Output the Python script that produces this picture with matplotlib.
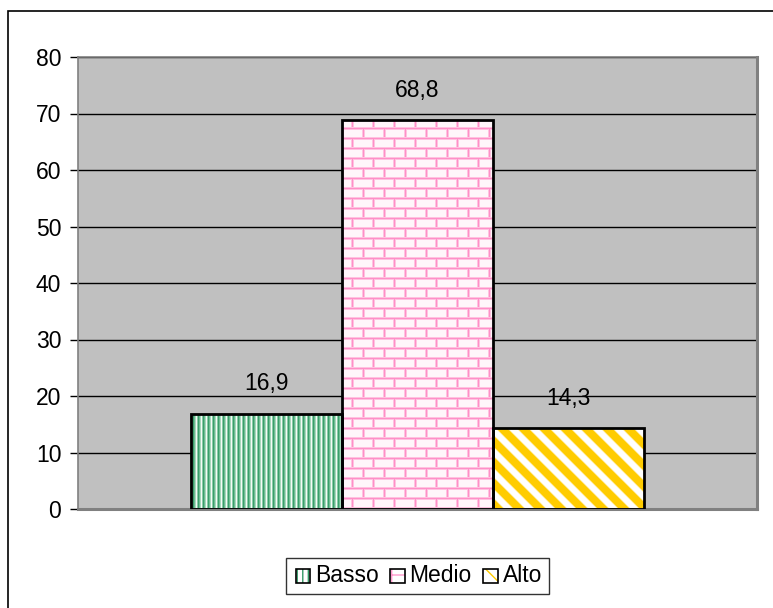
import numpy as np
import matplotlib
matplotlib.use("Agg")
import matplotlib.pyplot as plt
from matplotlib.patches import Rectangle
from matplotlib.legend_handler import HandlerBase

plt.rcParams['font.family'] = ['Liberation Sans', 'DejaVu Sans']

# Data
series = ["Basso", "Medio", "Alto"]
values = [16.9, 68.8, 14.3]
labels = ["16,9", "68,8", "14,3"]
y_ticks = [0, 10, 20, 30, 40, 50, 60, 70, 80]

W, H, DPI = 773, 608, 100
FS = 16.5
fig = plt.figure(figsize=(W / DPI, H / DPI), dpi=DPI)
fig.patch.set_facecolor("white")

# Outer chart-area frame (runs off the right and bottom edges)
fig.add_artist(Rectangle((8 / W, -0.05), 1.0, 1.05 - 11 / H,
                         transform=fig.transFigure, fill=False,
                         edgecolor="black", linewidth=1.2))

ax_l, ax_r, ax_t, ax_b = 78, 757, 57, 509
ax = fig.add_axes([ax_l / W, (H - ax_b) / H, (ax_r - ax_l) / W, (ax_b - ax_t) / H])
ax.set_facecolor("#C0C0C0")
ax.set_xlim(-2.25, 2.25)
ax.set_ylim(0, 80)
ax.set_yticks(y_ticks)
ax.set_yticklabels([str(t) for t in y_ticks])
ax.set_xticks([])
ax.tick_params(axis="y", direction="out", length=6, width=1, color="black",
               labelsize=FS, pad=6)
for s in ax.spines.values():
    s.set_color("#808080")
    s.set_linewidth(1.2)
ax.spines["right"].set_linewidth(2.2)
ax.spines["bottom"].set_linewidth(2.2)
ax.yaxis.grid(True, color="black", linewidth=1)
ax.set_axisbelow(True)

# Pixel-grid fill patterns for the three series
pw, ph = ax_r - ax_l, ax_b - ax_t
yy, xx = np.mgrid[0:ph, 0:pw]


def rgb(h):
    h = h.lstrip("#")
    return np.array([int(h[i:i + 2], 16) / 255 for i in (0, 2, 4)])


def stripes_green():
    cols = [rgb("#3A9E6C"), rgb("#6DBB91"), rgb("#A8D8BC"), rgb("#F4FBF7"), rgb("#8ACBA6")]
    img = np.zeros((ph, pw, 3))
    for k, c in enumerate(cols):
        img[:, (xx[0] % 5) == k] = c
    return img


def bricks_pink():
    img = np.ones((ph, pw, 3)) * rgb("#FFF6FA")
    core, soft = rgb("#FF8FC7"), rgb("#FFC2E0")
    ry = yy % 10
    row = yy // 10
    bx = (xx + (row % 2) * 10) % 21
    soft_mask = (ry == 0) | (ry == 2) | (bx == 0) | (bx == 2)
    core_mask = (ry == 1) | ((bx == 1) & (ry > 1))
    img[soft_mask] = soft
    img[core_mask] = core
    return img


def diag_yellow():
    d = (xx - yy) % 21
    t = np.abs(d - 10.5) / 10.5  # 0 at stripe center, 1 at edges
    a = np.clip((0.55 - t) / 0.2 + 0.5, 0, 1)
    y = rgb("#FFCC00")
    img = np.ones((ph, pw, 3)) * (1 - a[..., None]) + y * a[..., None]
    return img


patterns = [stripes_green(), bricks_pink(), diag_yellow()]
pattern_colors = ["#339966", "#FF99CC", "#FFCC00"]

xpos = [-1, 0, 1]
bars = ax.bar(xpos, values, width=1.0, facecolor="white", edgecolor="none",
              zorder=2)
for b, img in zip(bars, patterns):
    im = ax.imshow(img, extent=(-2.25, 2.25, 0, 80), aspect="auto",
                   interpolation="nearest", zorder=2.5, origin="upper")
    im.set_clip_path(b)
ax.bar(xpos, values, width=1.0, fill=False, edgecolor="black", linewidth=2,
       zorder=3)
ax.set_xlim(-2.25, 2.25)
ax.set_ylim(0, 80)

for x, v, lab in zip(xpos, values, labels):
    ax.annotate(lab, (x, v), xytext=(0, 13), textcoords="offset points",
                ha="center", va="bottom", fontsize=FS)


# Legend with small patterned keys
class PatternHandler(HandlerBase):
    def __init__(self, hatch, color):
        super().__init__()
        self.hatch = hatch
        self.color = color

    def create_artists(self, legend, orig_handle, xdescent, ydescent, width,
                       height, fontsize, trans):
        s = 10.5
        x0 = width - s
        y0 = (height - s) / 2 - 1
        fill = Rectangle((x0, y0), s, s, facecolor="white", edgecolor=self.color,
                         hatch=self.hatch, linewidth=0, transform=trans)
        edge = Rectangle((x0, y0), s, s, fill=False, edgecolor="black",
                         linewidth=1.2, transform=trans)
        return [fill, edge]


handles = [Rectangle((0, 0), 1, 1) for _ in series]
hatches = ["|||", "+", "\\\\"]
leg = fig.legend(handles, series, loc="center", bbox_to_anchor=(417.5 / W, 1 - 576 / H),
                 ncol=3, frameon=True, fancybox=False, fontsize=FS,
                 handlelength=0.75, handletextpad=0.2, columnspacing=0.4,
                 borderpad=0.3, borderaxespad=0,
                 handler_map={h: PatternHandler(hh, c)
                              for h, hh, c in zip(handles, hatches, pattern_colors)})
leg.get_frame().set_edgecolor("black")
leg.get_frame().set_linewidth(1)

fig.savefig("out.png", dpi=DPI, facecolor="white")
